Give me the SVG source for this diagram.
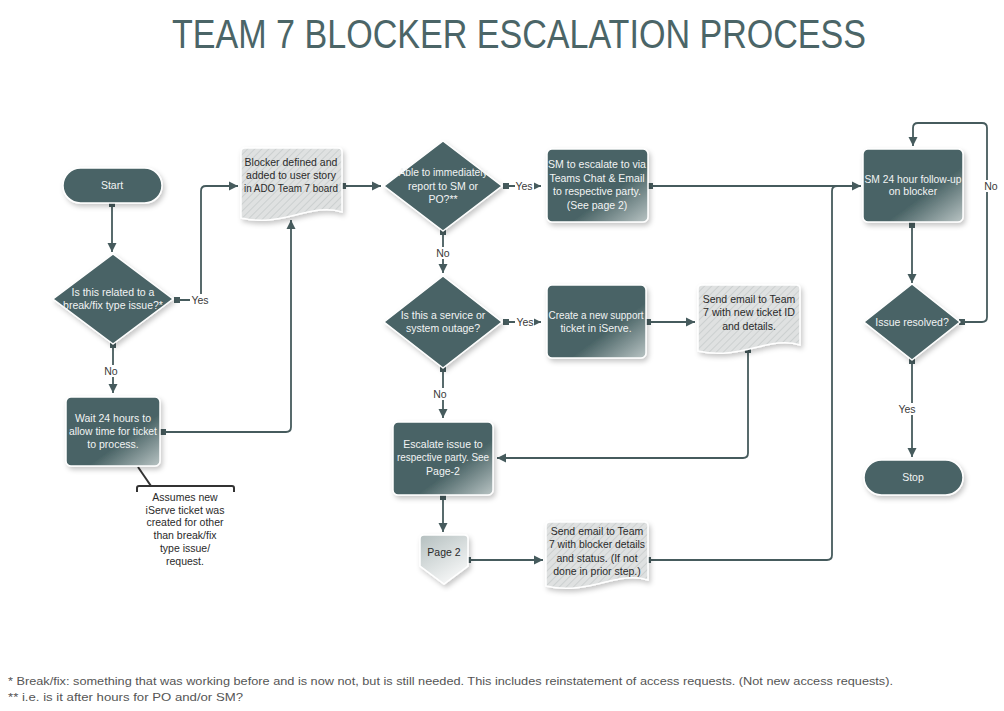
<svg xmlns="http://www.w3.org/2000/svg" width="1004" height="711" viewBox="0 0 1004 711">
<style>
.title{font-family:"Liberation Sans",Arial,sans-serif;font-size:33.5px;fill:#4b6567;}
.t{font-family:"Liberation Sans",Arial,sans-serif;font-size:10.5px;fill:#f2f4f4;text-anchor:middle;}
.td{font-family:"Liberation Sans",Arial,sans-serif;font-size:10.5px;fill:#2a2a2a;text-anchor:middle;}
.lbl{font-family:"Liberation Sans",Arial,sans-serif;font-size:10.5px;fill:#3a3a3a;text-anchor:middle;}
.foot{font-family:"Liberation Sans",Arial,sans-serif;font-size:11.5px;fill:#555;}
.dark{fill:#4a6466;stroke:#ffffff;stroke-width:1.5;stroke-linejoin:round;filter:url(#sh);}
.box{fill:url(#gbox);stroke:#ffffff;stroke-width:1.5;filter:url(#sh);}
.doc{fill:url(#hatch);stroke:#ffffff;stroke-width:1.5;filter:url(#sh);}
.c{fill:none;stroke:#465b5d;stroke-width:1.8;}
.a{marker-end:url(#arr);}
.s{marker-start:url(#sq);}
.lb{fill:#ffffff;}
</style>
<defs>
<filter id="sh" x="-20%" y="-20%" width="150%" height="150%">
<feDropShadow dx="2" dy="3" stdDeviation="2.5" flood-color="#000" flood-opacity="0.22"/>
</filter>
<linearGradient id="gbox" x1="0" y1="0" x2="1" y2="1">
<stop offset="0" stop-color="#4a6466"/>
<stop offset="0.62" stop-color="#4a6466"/>
<stop offset="1" stop-color="#b9c4c4"/>
</linearGradient>
<linearGradient id="gpage" x1="0" y1="0" x2="0.6" y2="1">
<stop offset="0" stop-color="#b4bfbf"/>
<stop offset="1" stop-color="#f6f7f7"/>
</linearGradient>
<pattern id="hatch" width="5" height="5" patternUnits="userSpaceOnUse" patternTransform="rotate(45)">
<rect width="5" height="5" fill="#dfe1e1"/>
<line x1="0" y1="0" x2="0" y2="5" stroke="#c8cccc" stroke-width="1.6"/>
</pattern>
<marker id="arr" markerWidth="10" markerHeight="10" refX="9" refY="5" orient="auto" markerUnits="userSpaceOnUse">
<path d="M0,0.5 L9,5 L0,9.5 Z" fill="#465b5d"/>
</marker>
<marker id="sq" markerWidth="6" markerHeight="6" refX="3" refY="3" orient="auto" markerUnits="userSpaceOnUse">
<rect width="6" height="6" fill="#465b5d"/>
</marker>
</defs>
<rect width="1004" height="711" fill="#ffffff"/>
<g transform="translate(172,48) scale(1,1.22)">
<text class="title" x="0" y="0" textLength="694" lengthAdjust="spacingAndGlyphs">TEAM 7 BLOCKER ESCALATION PROCESS</text>
</g>

<g id="connectors">
<path class="c s a" d="M112,204 L112,252"/>
<path class="c s a" d="M177,300 L196,300 Q201,300 201,295 L201,191 Q201,186 206,186 L238,186"/>
<path class="c s a" d="M113,345 L113,393"/>
<path class="c s a" d="M163,432 L286,432 Q291,432 291,427 L291,220"/>
<path class="c s a" d="M343,186 L381,186"/>
<path class="c s a" d="M506,186 L541,186"/>
<path class="c s a" d="M443,232 L443,273"/>
<path class="c s a" d="M650,186 L861,186"/>
<path class="c s a" d="M506,322 L541,322"/>
<path class="c s a" d="M648,322 L695,322"/>
<path class="c s a" d="M748,350 L748,453 Q748,458 743,458 L497,458"/>
<path class="c s a" d="M443,369 L443,418"/>
<path class="c s a" d="M443,497 L443,532"/>
<path class="c s a" d="M468,560 L543,560"/>
<path class="c s" d="M648,560 L827,560 Q832,560 832,555 L832,191 Q832,186 837,186"/>
<path class="c s a" d="M912,225 L912,283"/>
<path class="c s a" d="M962,322 L982,322 Q987,322 987,317 L987,128 Q987,123 982,123 L918,123 Q913,123 913,128 L913,146"/>
<path class="c s a" d="M912,361 L912,457"/>
<path d="M138,467 L151,486" stroke="#333" stroke-width="2" fill="none"/>
<path d="M137,492 V488 Q137,486 139,486 H232 Q234,486 234,488 V492" stroke="#333" stroke-width="2" fill="none"/>
<rect class="lb" x="190" y="294" width="19" height="12"/>
<text class="lbl" x="200" y="304">Yes</text>
<rect class="lb" x="104" y="365" width="16" height="12"/>
<text class="lbl" x="111" y="375">No</text>
<rect class="lb" x="515" y="180" width="19" height="12"/>
<text class="lbl" x="524" y="190">Yes</text>
<rect class="lb" x="436" y="247" width="16" height="12"/>
<text class="lbl" x="443" y="257">No</text>
<rect class="lb" x="515" y="316" width="19" height="12"/>
<text class="lbl" x="525" y="326">Yes</text>
<rect class="lb" x="432" y="388" width="16" height="12"/>
<text class="lbl" x="440" y="398">No</text>
<rect class="lb" x="983" y="180" width="16" height="12"/>
<text class="lbl" x="991" y="190">No</text>
<rect class="lb" x="898" y="403" width="19" height="12"/>
<text class="lbl" x="907" y="413">Yes</text>
</g>

<g id="start">
<rect class="dark" x="63" y="168" width="99" height="35" rx="17.5"/>
<text class="t" x="112" y="189">Start</text>
</g>
<g id="q-breakfix">
<polygon class="dark" points="113,254 173,299 113,344 53,299"/>
<text class="t" x="113" y="296">Is this related to a</text>
<text class="t" x="113" y="309">break/fix type issue?*</text>
</g>
<g id="wait">
<rect class="box" x="66" y="397" width="94" height="69" rx="5"/>
<text class="t" x="113" y="422">Wait 24 hours to</text>
<text class="t" x="113" y="435" textLength="88" lengthAdjust="spacingAndGlyphs">allow time for ticket</text>
<text class="t" x="113" y="448">to process.</text>
</g>
<g id="note">
<text class="td" x="185" y="501">Assumes new</text>
<text class="td" x="185" y="514">iServe ticket was</text>
<text class="td" x="185" y="526">created for other</text>
<text class="td" x="185" y="539">than break/fix</text>
<text class="td" x="185" y="552">type issue/</text>
<text class="td" x="185" y="565">request.</text>
</g>
<g id="doc-blocker">
<path class="doc" d="M245,148 H338 Q342,148 342,152 V212 C312,202 282,228 241,218 V152 Q241,148 245,148 Z"/>
<text class="td" x="291" y="166">Blocker defined and</text>
<text class="td" x="291" y="179">added to user story</text>
<text class="td" x="291" y="192" textLength="94" lengthAdjust="spacingAndGlyphs">in ADO Team 7 board</text>
</g>
<g id="q-report">
<polygon class="dark" points="443,141 502,186 443,231 384,186"/>
<text class="t" x="443" y="176" textLength="89" lengthAdjust="spacingAndGlyphs">Able to immediately</text>
<text class="t" x="443" y="190">report to SM or</text>
<text class="t" x="443" y="203">PO?**</text>
</g>
<g id="sm-escalate">
<rect class="box" x="547" y="149" width="101" height="73" rx="5"/>
<text class="t" x="597" y="168" textLength="98" lengthAdjust="spacingAndGlyphs">SM to escalate to via</text>
<text class="t" x="597" y="182">Teams Chat &amp; Email</text>
<text class="t" x="597" y="195">to respective party.</text>
<text class="t" x="597" y="209">(See page 2)</text>
</g>
<g id="q-outage">
<polygon class="dark" points="443,276 502,322 443,368 384,322"/>
<text class="t" x="443" y="319">Is this a service or</text>
<text class="t" x="443" y="332">system outage?</text>
</g>
<g id="create-ticket">
<rect class="box" x="547" y="285" width="99" height="73" rx="5"/>
<text class="t" x="596" y="319" textLength="95" lengthAdjust="spacingAndGlyphs">Create a new support</text>
<text class="t" x="596" y="332">ticket in iServe.</text>
</g>
<g id="doc-email-ticket">
<path class="doc" d="M702,285 H796 Q800,285 800,289 V345 C770,335 740,361 698,351 V289 Q698,285 702,285 Z"/>
<text class="td" x="749" y="303">Send email to Team</text>
<text class="td" x="749" y="316" textLength="92" lengthAdjust="spacingAndGlyphs">7 with new ticket ID</text>
<text class="td" x="749" y="330">and details.</text>
</g>
<g id="escalate">
<rect class="box" x="393" y="422" width="100" height="73" rx="5"/>
<text class="t" x="443" y="448">Escalate issue to</text>
<text class="t" x="443" y="461" textLength="92" lengthAdjust="spacingAndGlyphs">respective party. See</text>
<text class="t" x="443" y="475">Page-2</text>
</g>
<g id="page2">
<path d="M424,535 H464 Q468,535 468,539 V566 L444,584 L420,566 V539 Q420,535 424,535 Z" fill="url(#gpage)" stroke="#ffffff" stroke-width="1.5" filter="url(#sh)"/>
<text class="td" x="444" y="556">Page 2</text>
</g>
<g id="doc-email-status">
<path class="doc" d="M550,522 H644 Q648,522 648,526 V580 C618,570 588,596 546,586 V526 Q546,522 550,522 Z"/>
<text class="td" x="597" y="535">Send email to Team</text>
<text class="td" x="597" y="548" textLength="96" lengthAdjust="spacingAndGlyphs">7 with blocker details</text>
<text class="td" x="597" y="562">and status. (If not</text>
<text class="td" x="597" y="575">done in prior step.)</text>
</g>
<g id="followup">
<rect class="box" x="863" y="149" width="100" height="73" rx="5"/>
<text class="t" x="913" y="183" textLength="97" lengthAdjust="spacingAndGlyphs">SM 24 hour follow-up</text>
<text class="t" x="913" y="195">on blocker</text>
</g>
<g id="q-resolved">
<polygon class="dark" points="912,284 960,322 912,360 864,322"/>
<text class="t" x="912" y="326">Issue resolved?</text>
</g>
<g id="stop">
<rect class="dark" x="864" y="460" width="99" height="35" rx="17.5"/>
<text class="t" x="913" y="481">Stop</text>
</g>
<g id="footnotes">
<text class="foot" x="8" y="685" textLength="885" lengthAdjust="spacingAndGlyphs">* Break/fix: something that was working before and is now not, but is still needed. This includes reinstatement of access requests. (Not new access requests).</text>
<text class="foot" x="8" y="701" textLength="235" lengthAdjust="spacingAndGlyphs">**  i.e. is it after hours for PO and/or SM?</text>
</g>
</svg>
